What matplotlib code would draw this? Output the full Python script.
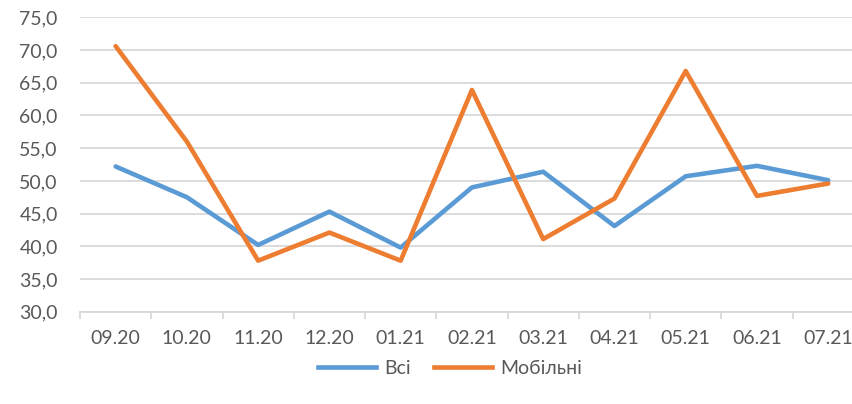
import matplotlib

matplotlib.use("Agg")
import matplotlib.pyplot as plt  # noqa: E402
from matplotlib.lines import Line2D  # noqa: E402
from matplotlib.ticker import FixedLocator, FuncFormatter  # noqa: E402

plt.rcParams["font.family"] = ["Lato", "DejaVu Sans"]

months = ["09.20", "10.20", "11.20", "12.20", "01.21", "02.21",
          "03.21", "04.21", "05.21", "06.21", "07.21"]
all_users = [52.2, 47.5, 40.2, 45.3, 39.8, 49.0, 51.4, 43.1, 50.7, 52.3, 50.1]
mobile = [70.6, 56.0, 37.8, 42.1, 37.8, 63.9, 41.1, 47.3, 66.8, 47.7, 49.6]

BLUE = "#5B9BD5"
ORANGE = "#ED7D31"
GRID = "#D9D9D9"
TEXT = "#595959"
FS = 14

fig = plt.figure(figsize=(8.52, 4.04), dpi=100)
ax = fig.add_axes([0.0939, 0.2285, 0.92, 0.7285])

x = list(range(len(months)))
ax.plot(x, all_users, color=BLUE, lw=3.3, solid_joinstyle="round", solid_capstyle="round")
ax.plot(x, mobile, color=ORANGE, lw=3.3, solid_joinstyle="round", solid_capstyle="round")

ax.set_xlim(-0.5, len(months) - 0.5)
ax.set_ylim(30, 75)
ax.set_yticks(range(30, 80, 5))
ax.yaxis.set_major_formatter(FuncFormatter(lambda v, _: f"{v:.1f}".replace(".", ",")))
ax.set_xticks(x)
ax.set_xticklabels(months)
ax.xaxis.set_minor_locator(FixedLocator([i - 0.5 for i in range(len(months) + 1)]))

ax.grid(axis="y", color=GRID, lw=1.3)
ax.set_axisbelow(True)
for side in ("top", "right", "left"):
    ax.spines[side].set_visible(False)
ax.spines["bottom"].set_color(GRID)
ax.spines["bottom"].set_linewidth(1.3)

ax.tick_params(axis="y", length=0, pad=16, labelsize=FS, labelcolor=TEXT)
ax.tick_params(axis="x", which="major", length=0, pad=13, labelsize=FS, labelcolor=TEXT)
ax.tick_params(axis="x", which="minor", length=5, width=1.3, color=GRID)

handles = [Line2D([], [], color=BLUE, lw=3.3), Line2D([], [], color=ORANGE, lw=3.3)]
fig.legend(handles, ["Всі", "Мобільні"], loc="center", bbox_to_anchor=(0.528, 0.088),
           ncol=2, frameon=False, fontsize=FS, labelcolor=TEXT,
           handlelength=3.0, handletextpad=0.4, columnspacing=1.2)

fig.savefig("out.png", dpi=100)
